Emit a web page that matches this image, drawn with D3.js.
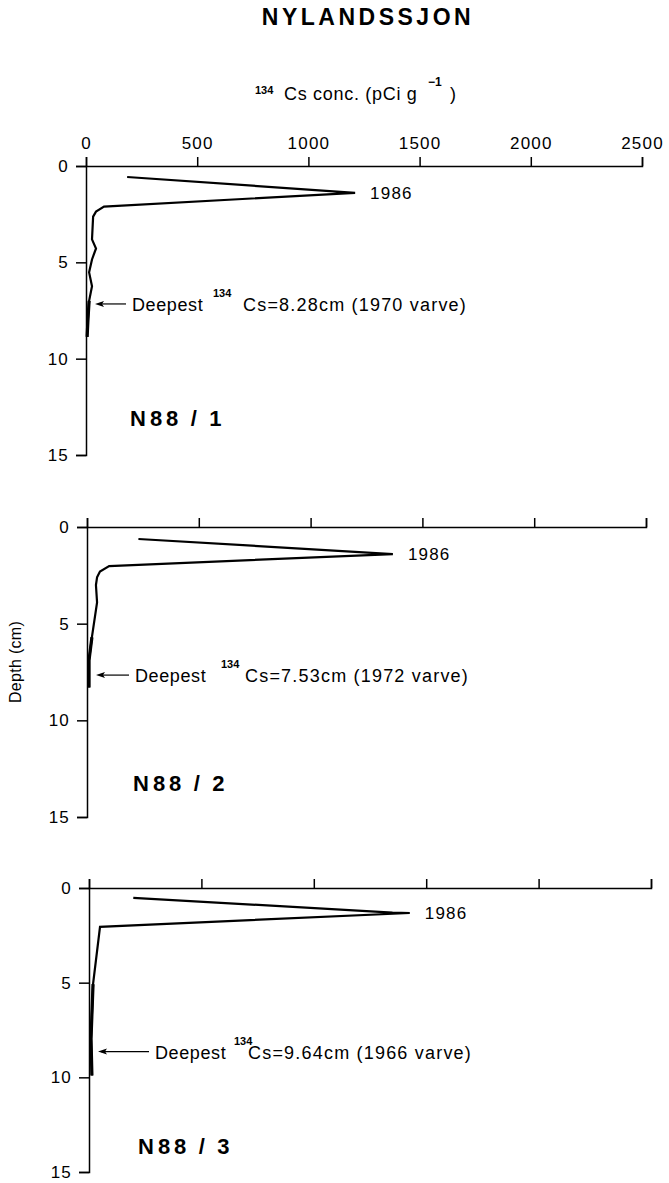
<!DOCTYPE html>
<html><head><meta charset="utf-8">
<script src="https://cdn.jsdelivr.net/npm/d3@7"></script>
<style>
html,body{margin:0;padding:0;background:#fff;}
text{font-family:"Liberation Sans",Arial,Helvetica,sans-serif;fill:#000;}
</style></head>
<body>
<svg id="chart" width="669" height="1183"></svg>
<script>
// ---- data ----
const xTicks = [0, 500, 1000, 1500, 2000, 2500];
const yTicks = [0, 5, 10, 15];
const cores = ["N88/1", "N88/2", "N88/3"];
const conc1 = [185, 1210, 81, 45, 32, 27, 45, 27, 14, 27, 14, 9, 5];
const depth1 = [0.57, 1.39, 2.11, 2.37, 2.63, 3.81, 4.28, 4.85, 5.52, 6.24, 7.0, 7.94, 8.87];
const conc2 = [230, 1368, 99, 58, 45, 40, 45, 22, 9, 9];
const depth2 = [0.62, 1.40, 2.02, 2.3, 2.6, 3.0, 3.9, 5.7, 6.9, 8.3];
const conc3 = [197, 1350, 1427, 49, 18, 9, 13];
const depth3 = [0.52, 1.30, 1.32, 2.05, 5.08, 7.96, 9.9];
const peakLabels = ["1986", "1986", "1986"];
const deepestDepth = [8.28, 7.53, 9.64];
const deepestYear = [1970, 1972, 1966];
const arrowDepth = [7.16, 7.66, 8.64];
const thickFrom = [10, 7, 4];

const concs = [conc1, conc2, conc3];
const depths = [depth1, depth2, depth3];

// ---- layout ----
const panels = [
  {x0: 86, x1: 642, y0: 166, y1: 455, labels: true, textX: 132, supX: 213, csX: 243, titleX: 130, titleY: 426},
  {x0: 87, x1: 646, y0: 527, y1: 817, labels: false, textX: 135, supX: 221, csX: 245, titleX: 133, titleY: 791},
  {x0: 89, x1: 651, y0: 888, y1: 1172, labels: false, textX: 155, supX: 234, csX: 248, titleX: 138, titleY: 1154}
];

const svg = d3.select("#chart");

svg.append("text").attr("x", 368).attr("y", 25).attr("text-anchor", "middle")
  .attr("font-size", 23).attr("font-weight", "bold").attr("letter-spacing", 3.5)
  .text("NYLANDSSJON");

// x-axis title
const xt = svg.append("g");
xt.append("text").attr("x", 255).attr("y", 94).attr("font-size", 11).attr("font-weight", "bold").text("134");
xt.append("text").attr("x", 284).attr("y", 100).attr("font-size", 18).attr("letter-spacing", 0.7).text("Cs conc. (pCi g");
xt.append("text").attr("x", 428).attr("y", 86).attr("font-size", 12).attr("font-weight", "bold").text("\u22121");
xt.append("text").attr("x", 450).attr("y", 100).attr("font-size", 18).text(")");

// y-axis title
svg.append("text").attr("transform", "translate(21,662) rotate(-90)")
  .attr("text-anchor", "middle").attr("font-size", 16).attr("letter-spacing", 0.3).text("Depth (cm)");

panels.forEach((p, i) => {
  const x = d3.scaleLinear().domain([0, 2500]).range([p.x0, p.x1]);
  const y = d3.scaleLinear().domain([0, 15]).range([p.y0, p.y1]);
  const g = svg.append("g");

  const ax = d3.axisTop(x).tickValues(xTicks).tickSize(9).tickSizeOuter(9).tickPadding(8)
    .tickFormat(p.labels ? d3.format("d") : () => "");
  const gx = g.append("g").attr("transform", `translate(0,${p.y0})`).call(ax);
  const ay = d3.axisLeft(y).tickValues(yTicks).tickSize(10).tickSizeOuter(10).tickPadding(7)
    .tickFormat(d3.format("d"));
  const gy = g.append("g").attr("transform", `translate(${p.x0},0)`).call(ay);
  [gx, gy].forEach(a => {
    a.select(".domain").attr("stroke", "#000").attr("stroke-width", 1.5);
    a.selectAll(".tick line").attr("stroke", "#000").attr("stroke-width", 1.5);
    a.selectAll(".tick text").attr("font-size", 17).attr("letter-spacing", 1.2)
      .attr("font-family", '"Liberation Sans",Arial,sans-serif').attr("fill", "#000");
  });

  const pts = concs[i].map((c, k) => [c, depths[i][k]]);
  const line = d3.line().x(d => x(d[0])).y(d => y(d[1]));
  g.append("path").attr("d", line(pts)).attr("fill", "none").attr("stroke", "#000")
    .attr("stroke-width", 2.2).attr("stroke-linejoin", "miter");
  g.append("path").attr("d", line(pts.slice(thickFrom[i]))).attr("fill", "none").attr("stroke", "#000")
    .attr("stroke-width", 3.2);

  // peak label
  let pk = 0;
  concs[i].forEach((c, k) => { if (c > concs[i][pk]) pk = k; });
  g.append("text").attr("x", x(concs[i][pk]) + 15).attr("y", y(depths[i][pk]) + 6)
    .attr("font-size", 17).attr("letter-spacing", 1.2).text(peakLabels[i]);

  // deepest annotation arrow
  const ay0 = y(arrowDepth[i]);
  const tipX = p.x0 + 9;
  g.append("line").attr("x1", tipX + 3).attr("x2", p.textX - 6).attr("y1", ay0).attr("y2", ay0)
    .attr("stroke", "#000").attr("stroke-width", 1.2);
  g.append("path").attr("d", `M${tipX},${ay0} L${tipX + 9},${ay0 - 3} L${tipX + 7},${ay0} L${tipX + 9},${ay0 + 3} Z`)
    .attr("fill", "#000");
  g.append("text").attr("x", p.textX).attr("y", ay0 + 7).attr("font-size", 18).attr("letter-spacing", 0.6).text("Deepest");
  g.append("text").attr("x", p.supX).attr("y", ay0 - 7).attr("font-size", 11).attr("font-weight", "bold").text("134");
  g.append("text").attr("x", p.csX).attr("y", ay0 + 7).attr("font-size", 18).attr("letter-spacing", 1.2)
    .text(`Cs=${deepestDepth[i].toFixed(2)}cm (${deepestYear[i]} varve)`);

  // core title
  g.append("text").attr("x", p.titleX).attr("y", p.titleY).attr("font-size", 22).attr("font-weight", "bold")
    .attr("letter-spacing", 4).text(cores[i].replace("/", " / ").replace(/ /g, "\u2009"));
});
</script>
</body></html>
